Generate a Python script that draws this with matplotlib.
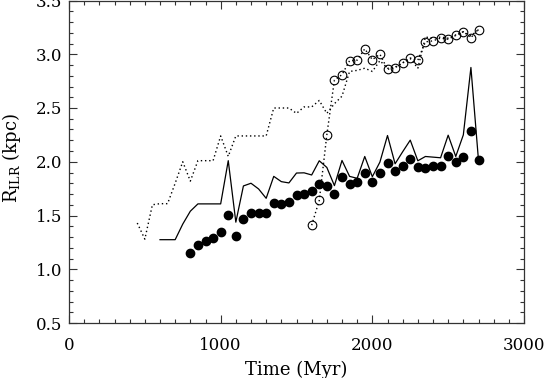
import matplotlib
matplotlib.use("Agg")
import matplotlib.pyplot as plt
from matplotlib.ticker import MultipleLocator

plt.rcParams['font.family'] = ['DejaVu Serif']
plt.rcParams['mathtext.fontset'] = 'dejavuserif'

# Solid line
t_solid = [600, 650, 700, 750, 800, 850, 900, 950, 1000, 1050, 1100, 1150, 1200,
           1250, 1300, 1350, 1400, 1450, 1500, 1550, 1600, 1650, 1700, 1750, 1800,
           1850, 1900, 1950, 2000, 2050, 2100, 2150, 2200, 2250, 2300, 2350, 2400,
           2450, 2500, 2550, 2600, 2650, 2700]
r_solid = [1.275, 1.275, 1.275, 1.42, 1.54, 1.608, 1.608, 1.608, 1.608, 2.01, 1.438,
           1.775, 1.80, 1.747, 1.66, 1.864, 1.815, 1.803, 1.895, 1.897, 1.877, 2.009,
           1.947, 1.778, 2.012, 1.864, 1.846, 2.049, 1.861, 1.997, 2.244, 1.981, 2.093,
           2.201, 2.009, 2.049, 2.043, 2.037, 2.247, 2.049, 2.25, 2.877, 2.012]

# Filled dots
t_dots = [800, 850, 900, 950, 1000, 1050, 1100, 1150, 1200, 1250, 1300, 1350, 1400,
          1450, 1500, 1550, 1600, 1650, 1700, 1750, 1800, 1850, 1900, 1950, 2000,
          2050, 2100, 2150, 2200, 2250, 2300, 2350, 2400, 2450, 2500, 2550, 2600,
          2650, 2700]
r_dots = [1.155, 1.229, 1.259, 1.290, 1.349, 1.509, 1.306, 1.472, 1.521, 1.519, 1.519,
          1.617, 1.608, 1.630, 1.688, 1.70, 1.725, 1.790, 1.778, 1.701, 1.861, 1.793,
          1.815, 1.898, 1.815, 1.892, 1.991, 1.914, 1.957, 2.028, 1.954, 1.942, 1.957,
          1.957, 2.049, 2.0, 2.043, 2.29, 2.012]

# Dotted line (no markers)
t_dotted = [450, 500, 550, 600, 650, 700, 750, 800, 850, 900, 950, 1000, 1050, 1100,
            1150, 1200, 1250, 1300, 1350, 1400, 1450, 1500, 1550, 1600, 1650, 1700,
            1750, 1800, 1850, 1900, 1950, 2000, 2050, 2100, 2150, 2200, 2250, 2300,
            2350, 2400, 2450, 2500, 2550, 2600, 2650, 2700]
r_dotted = [1.43, 1.28, 1.60, 1.61, 1.61, 1.80, 2.0, 1.82, 2.01, 2.01, 2.01, 2.24, 2.05,
            2.24, 2.24, 2.24, 2.24, 2.24, 2.50, 2.50, 2.50, 2.45, 2.51, 2.51, 2.57, 2.45,
            2.54, 2.61, 2.84, 2.85, 2.87, 2.84, 2.94, 2.87, 2.88, 2.92, 2.96, 2.87,
            3.16, 3.15, 3.16, 3.15, 3.18, 3.21, 3.17, 3.23]

# Open circles (dotted)
t_open = [1600, 1650, 1700, 1750, 1800, 1850, 1900, 1950, 2000, 2050, 2100, 2150,
          2200, 2250, 2300, 2350, 2400, 2450, 2500, 2550, 2600, 2650, 2700]
r_open = [1.41, 1.64, 2.25, 2.76, 2.81, 2.94, 2.945, 3.05, 2.95, 3.0, 2.86, 2.875,
          2.92, 2.965, 2.945, 3.115, 3.125, 3.15, 3.14, 3.175, 3.21, 3.155, 3.23]

x_major = [0, 1000, 2000, 3000]
y_major = [0.5, 1.0, 1.5, 2.0, 2.5, 3.0, 3.5]

fig = plt.figure(figsize=(5.48, 3.78), dpi=100)
ax = fig.add_axes([69/548, 55/378, 455/548, 322.5/378])

dots = (0, (1, 2))
ax.plot(t_solid, r_solid, color='black', lw=0.9, ls='-')
ax.plot(t_dotted, r_dotted, color='black', lw=1.0, ls=dots)
ax.plot(t_open, r_open, color='black', lw=1.0, ls=dots, marker='o',
        markersize=6.2, mfc='none', mec='black', mew=0.8)
ax.plot(t_dots, r_dots, ls='none', marker='o', markersize=6.0, color='black')

ax.set_xlim(0, 3000)
ax.set_ylim(0.5, 3.5)
ax.set_xticks(x_major)
ax.set_yticks(y_major)
ax.set_yticklabels([f"{v:.1f}" for v in y_major])
ax.xaxis.set_minor_locator(MultipleLocator(100))
ax.yaxis.set_minor_locator(MultipleLocator(0.1))
ax.tick_params(which='both', direction='in', top=True, right=True, width=0.8,
               labelsize=12, color='#333333')
ax.tick_params(which='major', length=5.5)
ax.tick_params(which='minor', length=2.8)
ax.tick_params(axis='x', which='major', pad=10)
ax.tick_params(axis='y', which='major', pad=5)
for s in ax.spines.values():
    s.set_linewidth(0.9)
    s.set_color('#333333')

ax.set_xlabel('Time (Myr)', fontsize=13)
ax.set_ylabel(r'R$_{\mathrm{ILR}}$ (kpc)', fontsize=13)
ax.xaxis.set_label_coords(0.5, -0.118)
ax.yaxis.set_label_coords(-0.100, 0.51)

fig.savefig('out.png', dpi=100)
